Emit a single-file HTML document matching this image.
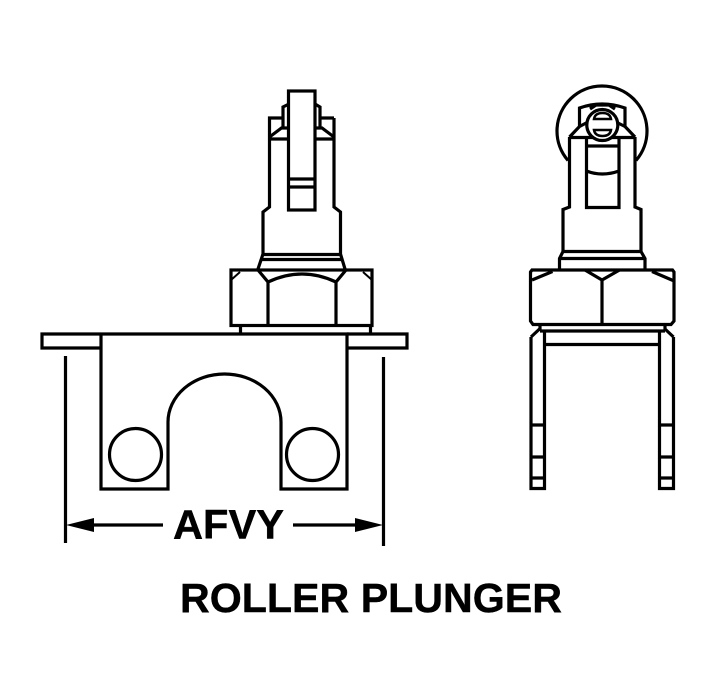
<!DOCTYPE html>
<html><head><meta charset="utf-8"><style>
html,body{margin:0;padding:0;background:#fff}
svg{display:block}
text{font-family:"Liberation Sans",sans-serif;font-weight:bold;fill:#000;stroke:#000;stroke-width:.4}
</style></head><body>
<svg width="712" height="684" viewBox="0 0 712 684" xmlns="http://www.w3.org/2000/svg">
<g fill="none" stroke="#000" stroke-width="3.200" stroke-linejoin="miter">
<!-- left view: plate + body -->
<path d="M101 334H42V348H101M347 334H407V348H347"/>
<path d="M101 334V489H168V422A56.5 48 0 0 1 281 422V489H347V334H101"/>
<circle cx="135.500" cy="454.500" r="26"/>
<circle cx="312.500" cy="454.500" r="26"/>
<!-- dimension -->
<path d="M65.500 356V543M383.500 357V546M90 525H163M293 525H358"/>
<!-- stud base + nut -->
<path d="M240.500 325V333M370.500 325V333"/>
<rect x="231" y="270" width="141" height="55.500"/>
<path d="M268 325V282M336 325V282M258 270L268 282Q302 266 336 282L346 270"/>
<path d="M231 280L240 272M372 280L363 272" stroke-width="2"/>
<!-- stem -->
<path d="M258 269L263 254V212L269.500 207V118H283M334 118H320M334 118V207L340.500 212V254L345 269"/>
<path d="M263 254.500H340.500M260 259.500H343"/>
<path d="M283 128V107L289 104M320 128V107L315 104"/>
<path d="M269.500 137L281.500 128H289M334 137L322 128H315M269.500 139H289M334 139H315"/>
<rect x="288.500" y="91" width="26.500" height="119" fill="#fff"/>
<path d="M289 179H315M289 187H315"/>
<!-- right view -->
<path d="M568 160.500A45 45 0 1 1 636 160.500"/>
<path d="M569.500 137V207L563 209.500V251.500M635 137V207L641 209.500V251.500M563 251.500H641M559.500 269V258.500L563 251.500M645 269V258.500L641 251.500M559.500 258.500H645"/>
<path d="M569.500 137.500H635M569.500 137L579.500 126.500L588 122M635 137L625 126.500L616 122"/>
<path d="M579.500 127V108Q602 100 625 108V127M590 109L596 105H609L615 109"/>
<path d="M586.500 137V207.500H619V137M586.500 146H619M586.500 171Q602 177 619 171"/>
<circle cx="602.300" cy="125" r="15.500" fill="#fff"/>
<path d="M594 119Q595 113 602.500 113Q610 113 611 119ZM594 130H611Q610 136 602.500 136Q595 136 594 130Z" fill="none" stroke-width="2.500"/>
<path d="M530.500 272L532 270H672.500L674 272V321L671 324.500H533L530.500 321Z"/>
<path d="M585 270L602 280L619.500 270M602 280V324M532 280L552.500 271.500M673 280.500L652 271.500"/>
<path d="M540 324V331M665 324V331M540 331H665M531 337L539.500 329M673.500 337L665 329"/>
<path d="M531 337V488.500H544.500V331M673.500 337V488.500H659.500V331M544 344.500H660"/>
<path d="M531 425H544M531 457H544M531 478H544M660 425H673M660 457H673M660 478H673"/>
</g>
<path d="M66 525L94 518V532Z" fill="#000"/>
<path d="M383 525L355 518V532Z" fill="#000"/>
<text x="173" y="538.500" font-size="41" textLength="111" lengthAdjust="spacingAndGlyphs">AFVY</text>
<text x="180" y="612" font-size="41" textLength="382" lengthAdjust="spacingAndGlyphs">ROLLER PLUNGER</text>
</svg>
</body></html>
